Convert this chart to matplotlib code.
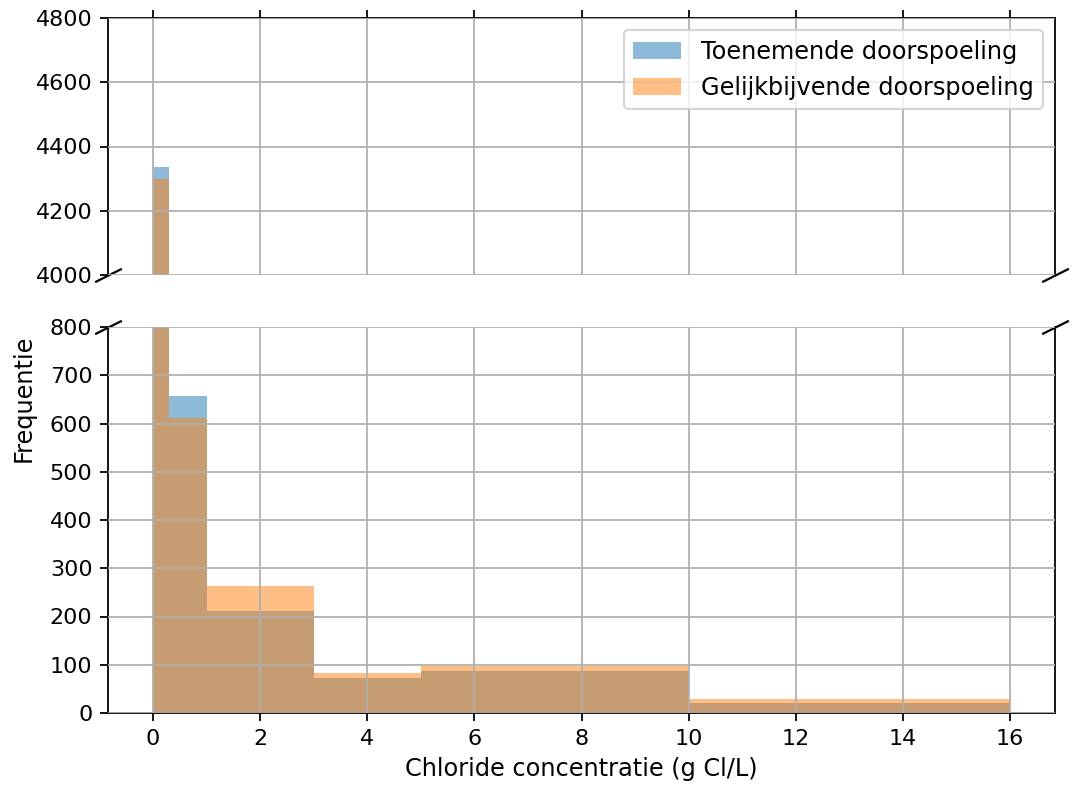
import matplotlib
matplotlib.use("Agg")
import matplotlib.pyplot as plt
import numpy as np

# bin edges (g Cl/L) and counts per bin
bin_edges = [0.0, 0.3, 1.0, 3.0, 5.0, 10.0, 16.0]
toenemend = [4336, 657, 212, 73, 87, 21]
gelijkblijvend = [4299, 611, 263, 83, 97, 29]
labels = ["Toenemende doorspoeling", "Gelijkbijvende doorspoeling"]

fig = plt.figure(figsize=(1074 / 160, 791 / 160), dpi=160)
left, right = 108 / 1074, 1055 / 1074
ax1 = fig.add_axes([left, 1 - 275 / 791, right - left, 257 / 791])
ax2 = fig.add_axes([left, 1 - 713 / 791, right - left, 386 / 791], sharex=ax1)

centers = np.array(bin_edges[:-1])
for ax in (ax1, ax2):
    ax.hist(centers, bins=bin_edges, weights=toenemend, alpha=0.5, label=labels[0])
    ax.hist(centers, bins=bin_edges, weights=gelijkblijvend, alpha=0.5, label=labels[1])
    ax.grid(True)
    ax.set_axisbelow(False)

ax1.set_ylim(4000, 4800)
ax1.set_yticks(np.arange(4000, 4801, 200))
ax2.set_ylim(0, 800)
ax2.set_yticks(np.arange(0, 801, 100))
ax2.set_xticks(np.arange(0, 17, 2))
ax2.set_xlim(-0.84, 16.84)

ax1.spines["bottom"].set_visible(False)
ax2.spines["top"].set_visible(False)
ax1.xaxis.tick_top()
ax1.tick_params(labeltop=False)
ax2.xaxis.tick_bottom()

# break markers
d = 0.5
kw = dict(marker=[(-1, -d), (1, d)], markersize=12, linestyle="none",
          color="k", mec="k", mew=1, clip_on=False)
ax1.plot([0, 1], [0, 0], transform=ax1.transAxes, **kw)
ax2.plot([0, 1], [1, 1], transform=ax2.transAxes, **kw)

ax1.legend(loc="upper right", fontsize=10.8)
ax2.set_xlabel("Chloride concentratie (g Cl/L)", fontsize=10.8)
fig.text(0.022, 0.497, "Frequentie", rotation=90, ha="center", va="center", fontsize=10.8)

fig.savefig("out.png", dpi=160)
